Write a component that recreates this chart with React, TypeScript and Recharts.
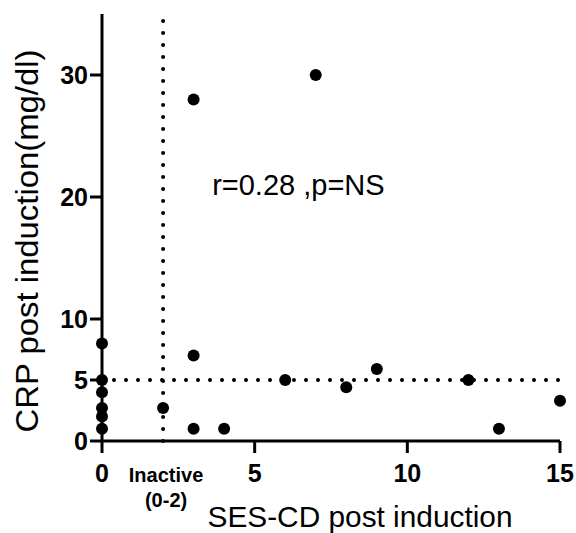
import React from "react";
import { ScatterChart, Scatter, XAxis, YAxis, ReferenceLine, ReferenceDot } from "recharts";

const sesCd = [0, 0, 0, 0, 0, 0, 2, 3, 3, 3, 4, 6, 7, 8, 9, 12, 13, 15];
const crp = [8, 5, 4, 2.7, 2, 1, 2.7, 28, 7, 1, 1, 5, 30, 4.4, 5.9, 5, 1, 3.3];
const xTicks = [0, 5, 10, 15];
const yTicks = [0, 5, 10, 20, 30];
const inactiveCutoff = 2;
const crpCutoff = 5;

const points = sesCd.map((x, i) => ({ x, y: crp[i] }));

const font = "Arial, 'Liberation Sans', sans-serif";
const axisStyle = { stroke: "#000", strokeWidth: 3 };

const Dot = (props: any) => <circle cx={props.cx} cy={props.cy} r={6} fill="#000" />;

export default function App() {
    return (
        <div style={{ position: "absolute", left: 0, top: 0, width: 576, height: 533 }}>
            <ScatterChart width={576} height={533} margin={{ top: 14, right: 16, left: 0, bottom: 0 }}>
                <XAxis
                    type="number"
                    dataKey="x"
                    domain={[0, 15]}
                    ticks={xTicks}
                    height={92}
                    tickSize={12}
                    tickMargin={11}
                    axisLine={axisStyle}
                    tickLine={axisStyle}
                    tick={{ fill: "#000", fontSize: 25, fontWeight: "bold", fontFamily: font }}
                    label={{
                        content: ({ viewBox }: any) => (
                            <text x={viewBox.x + viewBox.width / 2 + 29} y={527} textAnchor="middle" fontSize={30} fontFamily={font} fill="#000" textLength={305} lengthAdjust="spacingAndGlyphs">
                                SES-CD post induction
                            </text>
                        ),
                    }}
                />
                <YAxis
                    type="number"
                    dataKey="y"
                    domain={[0, 35]}
                    ticks={yTicks}
                    width={102}
                    tickSize={12}
                    tickMargin={2}
                    axisLine={axisStyle}
                    tickLine={axisStyle}
                    tick={{ fill: "#000", fontSize: 25, fontWeight: "bold", fontFamily: font }}
                    label={{
                        content: () => (
                            <text x={38} y={241} transform="rotate(-90 38 241)" textAnchor="middle" fontSize={31} fontFamily={font} fill="#000" textLength={383} lengthAdjust="spacingAndGlyphs">
                                CRP post induction(mg/dl)
                            </text>
                        ),
                    }}
                />
                <ReferenceLine
                    x={inactiveCutoff}
                    stroke="#000"
                    strokeWidth={4}
                    strokeDasharray="0 12"
                    strokeLinecap="round"
                    label={{
                        content: ({ viewBox }: any) => (
                            <text textAnchor="middle" fontSize={20} fontWeight="bold" fontFamily={font} fill="#000">
                                <tspan x={viewBox.x + 3} y={viewBox.y + viewBox.height + 41}>Inactive</tspan>
                                <tspan x={viewBox.x + 3} y={viewBox.y + viewBox.height + 66}>(0-2)</tspan>
                            </text>
                        ),
                    }}
                />
                <ReferenceLine y={crpCutoff} stroke="#000" strokeWidth={4} strokeDasharray="0 12" strokeLinecap="round" />
                <ReferenceDot
                    x={3.64}
                    y={20.1}
                    r={1}
                    fillOpacity={0}
                    strokeOpacity={0}
                    label={{
                        content: ({ viewBox }: any) => (
                            <text x={viewBox.x} y={viewBox.y} fontSize={29} fontFamily={font} fill="#000">
                                r=0.28 ,p=NS
                            </text>
                        ),
                    }}
                />
                <Scatter data={points} fill="#000" shape={Dot} isAnimationActive={false} />
            </ScatterChart>
        </div>
    );
}
